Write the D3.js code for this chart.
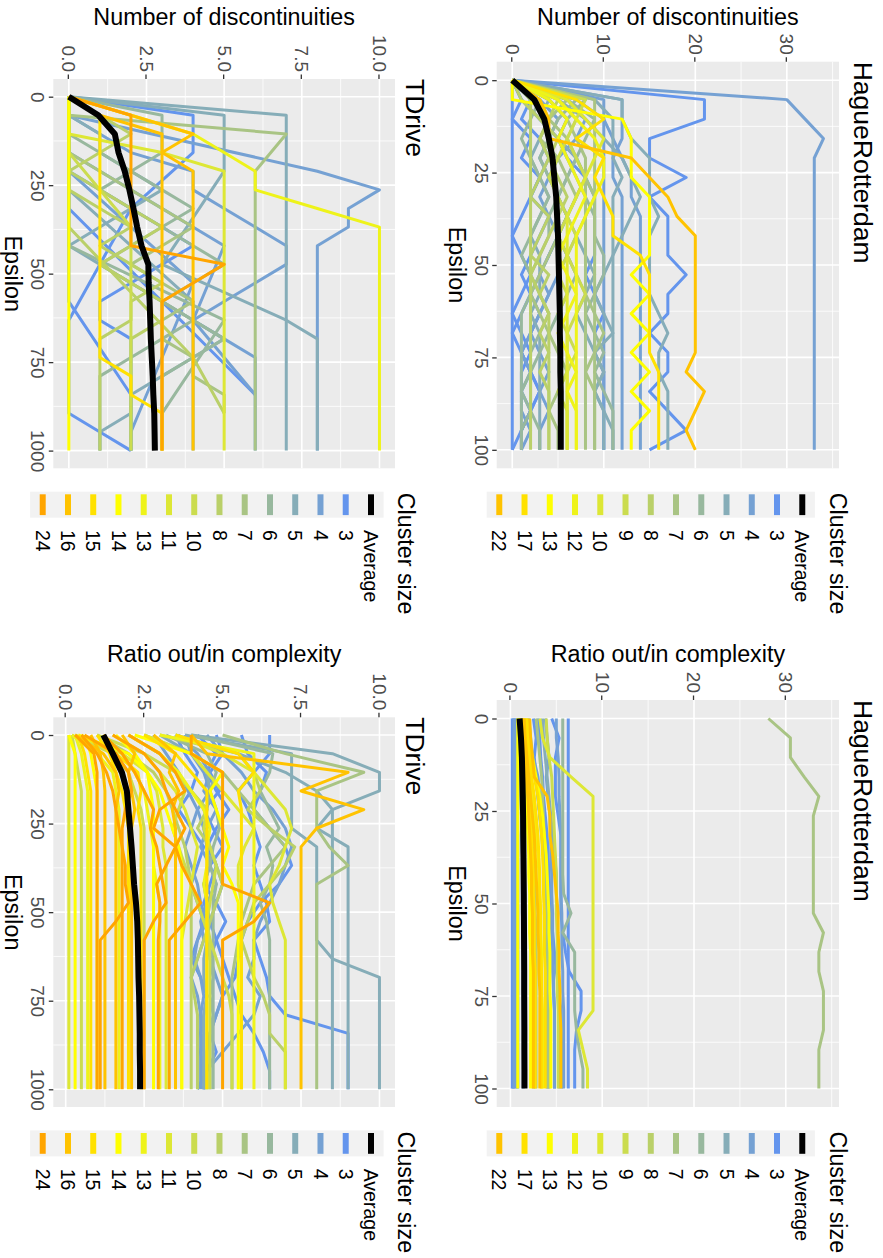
<!DOCTYPE html>
<html>
<head>
<meta charset="utf-8">
<script src="https://cdn.jsdelivr.net/npm/d3@7"></script>
<style>
  body { margin: 0; background: #ffffff; }
  svg { display: block; }
</style>
</head>
<body>
<script>
// ---------------------------------------------------------------
// Data
// ---------------------------------------------------------------
// Epsilon values at which the clusters were evaluated
const hrEpsilon = [0, 5.26, 10.53, 15.79, 21.05, 26.32, 31.58, 36.84, 42.11, 47.37,
                   52.63, 57.89, 63.16, 68.42, 73.68, 78.95, 84.21, 89.47, 94.74, 100];
const tdEpsilon = [0, 52.6, 105.3, 157.9, 210.5, 263.2, 315.8, 368.4, 421.1, 473.7,
                   526.3, 578.9, 631.6, 684.2, 736.8, 789.5, 842.1, 894.7, 947.4, 1000];

// Cluster sizes present in each data set (legend order)
const hrSizes = [3, 4, 5, 6, 7, 8, 9, 10, 12, 13, 17, 22];
const tdSizes = [3, 4, 5, 6, 7, 8, 10, 11, 13, 14, 15, 16, 24];

// Colour steps: cornflower blue -> yellow -> orange
const sizePalette = ["#6495ED", "#75A1D3", "#86ADB8", "#98B89E", "#A9C484", "#BAD069",
                     "#CBDC4F", "#DDE735", "#EEF31A", "#FFFF00", "#FFE100", "#FFC300", "#FFA500"];

// Axis ticks
const hrEpsTicks = [0, 25, 50, 75, 100];
const hrEpsMinor = [12.5, 37.5, 62.5, 87.5];
const tdEpsTicks = [0, 250, 500, 750, 1000];
const tdEpsMinor = [125, 375, 625, 875];
const hrValueTicks = [0, 10, 20, 30];
const hrValueMinor = [5, 15, 25, 35];
const tdValueTicks = [0, 2.5, 5, 7.5, 10];
const tdValueMinor = [1.25, 3.75, 6.25, 8.75];

// One row per cluster: [cluster size, value at each epsilon]; null = not measured there
// HagueRotterdam - number of discontinuities
const hrDiscLines = [
  [3, [0,21,21,15,15,19,15,17,17,17,19,17,17,15,17,17,15,17,19,15]],
  [3, [0,0,0,0,0,0,0,0,0,0,0,0,0,0,0,0,0,0,0,0]],
  [3, [0,2,1,3,4,3,2,1,0,1,2,1,0,1,2,1,1,2,1,0]],
  [3, [0,4,6,5,7,8,7,6,5,4,3,2,3,2,1,2,3,2,1,1]],
  [3, [0,1,3,5,6,8,9,9,9,9,8,9,10,9,9,10,10,10,10,10]],
  [3, [0,1,0,2,1,3,2,4,3,2,1,2,1,0,1,2,3,2,1,1]],
  [4, [0,30,32,34,33,33,33,33,33,33,33,33,33,33,33,33,33,33,33,33]],
  [4, [0,12,12,12,11,11,12,12,12,12,12,12,12,12,12,12,12,12,12,12]],
  [4, [0,7,10,11,12,13,13,14,14,14,14,14,14,14,14,14,14,14,14,14]],
  [4, [0,3,5,4,3,4,5,6,5,4,3,4,3,2,3,4,3,4,3,3]],
  [4, [0,10,10,10,10,10,10,10,10,10,10,10,10,10,10,10,10,10,10,10]],
  [4, [0,6,8,7,5,4,3,4,5,6,5,4,3,2,1,2,1,1,2,1]],
  [5, [0,12,12,13,15,15,15,16,15,15,15,15,16,17,16,16,17,17,17,17]],
  [5, [0,9,11,11,11,12,11,11,11,11,11,11,11,11,11,11,11,11,11,11]],
  [5, [0,5,8,10,12,13,14,13,12,11,10,9,10,11,9,10,9,10,11,11]],
  [5, [0,2,4,3,2,3,4,3,2,3,3,3,2,3,3,3,3,3,3,3]],
  [5, [0,4,3,5,7,6,5,6,7,8,9,8,7,8,9,10,9,10,10,10]],
  [6, [0,6,9,8,7,6,5,4,4,3,2,2,1,1,1,1,1,1,1,1]],
  [6, [0,3,2,1,2,3,4,3,2,1,2,3,4,3,2,2,1,2,1,1]],
  [6, [0,8,6,5,6,7,8,9,9,10,10,9,8,9,10,9,10,11,11,11]],
  [6, [0,7,5,4,3,4,5,6,5,6,7,6,5,4,3,2,2,2,3,3]],
  [7, [0,9,9,9,9,9,9,9,9,9,9,9,9,9,9,9,9,9,9,9]],
  [7, [0,4,6,7,8,8,8,8,8,8,8,8,8,8,8,8,8,8,8,8]],
  [7, [0,6,4,3,5,6,7,6,5,4,3,2,3,4,5,6,5,4,5,5]],
  [7, [0,3,4,6,7,8,9,8,7,6,7,8,9,10,9,8,9,9,9,9]],
  [8, [0,2,2,2,2,2,2,2,2,2,2,2,2,2,2,2,2,2,2,2]],
  [8, [0,1,3,5,4,3,2,4,3,2,4,3,4,4,4,4,4,4,4,4]],
  [8, [0,5,4,3,4,5,6,5,4,3,2,3,4,3,4,3,4,4,4,4]],
  [9, [0,5,7,6,5,4,5,6,7,6,5,6,5,6,7,6,5,6,6,6]],
  [9, [0,8,7,6,7,8,7,6,5,6,7,8,7,6,6,6,6,6,6,6]],
  [10, [0,6,8,10,9,8,7,6,6,6,6,6,6,6,6,6,6,6,6,6]],
  [12, [0,5,7,9,10,10,9,8,7,7,7,7,7,7,7,7,7,7,7,7]],
  [12, [0,4,6,5,6,7,8,7,6,5,6,7,6,5,6,7,6,7,7,7]],
  [13, [0,0,12,13,13,13,15,15,15,15,13,15,13,15,13,15,13,15,13,13]],
  [17, [0,7,10,7,10,9,10,11,11,14,15,15,15,15,15,16,16,16,16,16]],
  [22, [0,3,4,4,13,15,17,18,20,20,20,20,20,20,20,19,21,20,19,20]]
];
const hrDiscAverage = [0,2.4,3.5,4.0,4.4,4.6,4.8,4.9,5.0,5.05,5.1,5.15,5.2,5.2,5.25,5.25,5.3,5.3,5.3,5.3];

// TDrive - number of discontinuities
const tdDiscLines = [
  [3, [0,0,0,0,0,0,0,null,null,null,null,null,null,null,null,null,6]],
  [3, [0,0,0,0,0,1,2,3,4,3,2,1,1,2,2,2,2,2,2,2]],
  [3, [0,4,4,4,null,null,2,null,null,null,null,null,0,0,0,0,0,0,1,2]],
  [3, [0,0,0,0,0,0,0,0,0,0,0,0,null,null,null,null,2,2,2,2]],
  [4, [0,0,null,null,8,10,9,9,8,8,8,8,8,8,8,8,8,8,8,8]],
  [4, [0,0,0,0,null,null,null,null,5,null,null,null,4,null,null,null,6]],
  [4, [0,0,0,0,0,null,null,null,null,null,4,null,null,null,null,null,null,null,2,2]],
  [4, [0,0,1,2,4,4,5,6,7,7,6,5,4,5,6,6,6,6,6,6]],
  [5, [0,7,7,7,7,7,7,7,7,7,7,7,7,7,7,7,7,7,7,7]],
  [5, [0,5,5,5,5,null,null,null,null,3,null,null,7,8,8,8,8,8,8,8]],
  [5, [0,0,0,0,0,0,null,null,null,null,null,4,4,4,4,4,4,4,4,4]],
  [5, [0,0,1,1,2,3,2,1,0,1,2,3,4,5,4,3,2,2,1,1]],
  [6, [0,0,0,0,0,0,0,0,0,null,null,null,5,null,null,null,null,3,3,3]],
  [6, [0,3,3,3,2,1,2,3,2,1,2,3,4,3,2,1,1,1,1,1]],
  [6, [0,0,0,1,2,3,4,3,4,5,4,3,4,5,4,3,3,3,3,3]],
  [7, [0,0,7,null,6,6,6,6,6,6,6,6,6,6,6,6,6,6,6,6]],
  [7, [0,0,0,0,1,2,3,4,3,2,3,4,3,3,4,4,5,5]],
  [8, [0,0,0,0,0,0,1,2,1,2,3,2,2,1,1,1,1,1,1,1]],
  [8, [0,0,0,0,0,0,0,0,null,null,null,null,null,null,4,null,null,5]],
  [8, [0,1,2,1,0,1,2,3,2,1,2,3,3,2,2,2,2,2,2,2]],
  [10, [0,0,0,0,null,null,null,2,null,null,null,null,2,2,2,2,2,2,2,2]],
  [11, [0,0,0,3,5,5,5,5,5,5,5,5,5,5,5,5,5,5,5,5]],
  [13, [0,2,4,5,6,6,8,10,10,10,10,10,10,10,10,10,10,10,10,10]],
  [14, [0,0,0,0,0,0,0,0,0,0,0,0,0,0,0,0,0,0,0,0]],
  [15, [0,1,1,1,1,1,1,1,1,1,1,1,1,1,1,2,2,3,3,3]],
  [16, [0,1,3,3,3,3,3,3,3,3,3,3,3,3,3,3,3,3,3,3]],
  [16, [0,2,4,3,4,4,4,4,4,4,4,4,4,4,4,4,4,4,4,4]],
  [24, [0,2,2,2,2,2,2,2,2,5,4,3,3,3,3,3,3,3,3,3]]
];
const tdDiscAverage = [0,0.95,1.48,1.6,1.8,1.95,2.08,2.2,2.34,2.56,2.57,2.6,2.62,2.64,2.67,2.7,2.72,2.75,2.76,2.77];

// HagueRotterdam - ratio out/in complexity
const hrRatioLines = [
  [3, [0.2,0.2,0.2,0.2,0.2,0.2,0.2,0.2,0.2,0.2,0.2,0.2,0.2,0.2,0.2,0.2,0.2,0.2,0.2,0.2]],
  [3, [0.5,0.6,0.6,0.7,0.7,0.7,0.8,0.8,0.8,0.8,0.8,0.8,0.8,0.8,0.8,0.8,0.8,0.8,0.8,0.8]],
  [3, [4.5,5.3,4.9,4.9,4.9,5.2,5.5,5.5,5.5,5.5,5.5,5.7,6.0,6.4,7.7,7.7,7.2,7.0,7.0,7.0]],
  [3, [6.3,6.3,6.3,6.3,6.3,6.3,6.3,6.3,6.3,6.3,6.3,6.3,6.3,6.3,6.3,6.3,6.3,6.3,6.3,6.3]],
  [3, [3.0,3.2,3.3,3.5,3.6,3.8,4.0,4.1,4.2,4.3,4.4,4.5,4.6,4.6,4.7,4.8,4.8,4.8,4.8,4.8]],
  [3, [2.5,2.8,2.6,2.8,3.0,3.2,3.5,3.8,4.0,4.2,4.4,4.6,4.8,5.0,5.3,5.5,5.5,5.6,5.6,5.6]],
  [3, [0.3,0.3,0.3,0.3,0.3,0.3,0.3,0.3,0.3,0.3,0.3,0.3,0.3,0.3,0.3,0.3,0.3,0.3,0.3,0.3]],
  [4, [0.4,0.4,0.4,0.4,0.4,0.4,0.4,0.4,0.4,0.4,0.4,0.4,0.4,0.4,0.4,0.4,0.4,0.4,0.4,0.4]],
  [4, [5.0,5.0,5.2,5.3,5.3,5.4,5.5,5.5,5.5,5.5,5.6,5.6,5.6,5.7,5.7,5.8,5.8,5.8,5.8,5.8]],
  [4, [3.8,4.0,4.2,3.9,4.1,4.3,4.4,4.4,4.5,4.5,4.6,4.6,4.6,4.7,4.7,4.8,4.8,4.8,4.8,4.8]],
  [4, [1.8,2.0,2.5,3.0,3.2,3.4,3.5,3.6,3.6,3.7,3.7,3.8,3.8,3.9,3.9,3.9,4.0,4.0,4.0,4.0]],
  [4, [0.8,0.9,1.0,1.1,1.1,1.2,1.2,1.3,1.3,1.3,1.3,1.4,1.4,1.4,1.4,1.4,1.4,1.4,1.4,1.4]],
  [4, [0.6,0.6,0.6,0.6,0.6,0.6,0.6,0.6,0.6,0.6,0.6,0.6,0.6,0.6,0.6,0.6,0.6,0.6,0.6,0.6]],
  [5, [3.5,3.6,3.8,4.0,4.2,4.4,4.6,4.8,5.0,5.0,5.1,5.1,5.2,5.2,5.2,5.3,5.3,5.3,5.3,5.3]],
  [5, [2.0,2.2,2.4,2.7,3.0,3.2,3.4,3.6,3.7,3.8,3.9,4.0,4.0,4.1,4.1,4.2,4.2,4.2,4.2,4.2]],
  [6, [5.7,5.7,5.7,5.7,5.7,5.7,5.7,5.7,5.7,5.8,6.6,5.7,7.0,7.0,7.0,7.0,7.2,7.5,7.9,7.9]],
  [6, [1.2,1.3,1.4,1.6,1.8,1.9,2.0,2.1,2.2,2.2,2.3,2.3,2.4,2.4,2.4,2.5,2.5,2.5,2.5,2.5]],
  [7, [28.1,30.5,30.5,32.0,33.6,33.0,33.0,33.0,33.0,33.0,33.0,34.1,33.6,33.6,34.1,34.1,34.1,33.6,33.6,33.6]],
  [7, [2.8,3.0,3.2,3.4,3.5,3.6,3.7,3.8,3.8,3.9,3.9,4.0,4.0,4.0,4.1,4.1,4.1,4.1,4.1,4.1]],
  [8, [1.5,1.7,1.9,2.1,2.3,2.4,2.5,2.6,2.6,2.7,2.7,2.8,2.8,2.8,2.8,2.8,2.8,2.8,2.8,2.8]],
  [9, [3.9,4.0,4.2,4.5,4.6,4.7,4.8,4.9,5.0,5.0,5.0,5.1,5.1,5.1,5.1,5.2,5.2,5.2,5.2,5.2]],
  [10, [3.2,3.5,4.3,6.6,9.0,9.0,9.0,9.0,9.0,9.0,9.0,9.0,9.0,9.0,9.0,9.0,7.4,7.9,8.4,8.4]],
  [12, [1.0,1.2,1.5,2.0,2.4,2.6,2.8,3.0,3.1,3.2,3.3,3.3,3.4,3.4,3.4,3.5,3.5,3.5,3.5,3.5]],
  [13, [0.8,0.8,0.8,0.8,0.8,0.8,0.8,0.8,0.8,0.8,0.8,0.8,0.8,0.8,0.8,0.8,0.8,0.8,0.8,0.8]],
  [13, [1.8,2.0,2.4,2.8,3.2,3.5,3.7,3.9,4.0,4.1,4.2,4.2,4.3,4.3,4.3,4.4,4.4,4.4,4.4,4.4]],
  [13, [0.9,1.0,1.2,1.4,1.6,1.8,1.9,2.0,2.0,2.1,2.1,2.1,2.2,2.2,2.2,2.2,2.2,2.2,2.2,2.2]],
  [17, [1.8,1.9,2.1,2.6,3.0,3.2,3.4,3.5,3.6,3.6,3.7,3.7,3.7,3.8,3.8,3.8,3.8,3.8,3.8,3.8]],
  [17, [1.4,1.5,1.7,1.9,2.1,2.2,2.3,2.4,2.5,2.5,2.6,2.6,2.6,2.7,2.7,2.7,2.7,2.7,2.7,2.7]],
  [17, [1.6,1.7,2.0,2.3,2.6,2.8,3.0,3.1,3.2,3.2,3.3,3.3,3.3,3.4,3.4,3.4,3.4,3.4,3.4,3.4]],
  [22, [2.1,2.2,2.4,2.6,4.0,4.3,4.3,4.6,4.8,5.0,5.2,5.2,5.3,5.3,5.4,5.4,5.5,5.5,5.5,5.5]],
  [22, [1.5,1.6,1.8,2.0,2.2,2.4,2.6,2.7,2.8,2.9,3.0,3.0,3.1,3.1,3.2,3.2,3.2,3.2,3.2,3.2]],
  [22, [1.3,1.4,1.5,1.7,1.9,2.0,2.1,2.2,2.3,2.3,2.4,2.4,2.4,2.5,2.5,2.5,2.5,2.5,2.5,2.5]]
];
const hrRatioAverage = [1.0,1.15,1.25,1.3,1.35,1.38,1.4,1.42,1.44,1.46,1.47,1.48,1.49,1.5,1.5,1.51,1.52,1.52,1.53,1.53];

// TDrive - ratio out/in complexity
const tdRatioLines = [
  [3, [6.5,6.5,6.0,5.5,5.8,6.0,6.2,6.0,6.2,6.4,6.5,6.0,6.2,6.4,6.5,7.0,9.0,9.0,9.0,9.0]],
  [3, [4.2,4.8,4.5,4.8,5.2,4.8,4.5,4.8,4.6,4.4,4.6,4.8,5.0,5.2,5.4,5.6,6.0,6.3,6.5,6.5]],
  [3, [3.5,3.8,4.2,4.0,3.6,4.0,4.4,4.2,4.0,4.2,4.4,4.2,4.0,4.3,4.5,4.4,4.3,4.4,4.4,4.4]],
  [3, [5.6,5.8,6.4,6.2,6.0,6.5,7.0,7.2,6.8,6.2,5.8,5.6,5.5,5.4,5.0,4.8,4.6,4.8,4.5,4.4]],
  [3, [4.8,5.0,4.6,4.9,4.4,4.7,5.0,4.6,4.4,4.8,5.1,4.8,4.6,4.7,4.6,4.7,4.6,4.6,4.6,4.6]],
  [4, [4.5,5.0,5.6,6.0,6.6,7.0,7.2,7.0,6.8,6.5,6.2,6.0,6.0,5.8,6.2,6.0,5.5,5.0,4.5,4.2]],
  [4, [3.8,4.0,4.4,4.6,4.2,4.4,4.6,4.8,5.0,4.8,4.6,4.5,4.6,4.8,5.0,4.8,4.6,4.5,4.5,4.5]],
  [4, [2.8,3.2,3.6,3.9,4.2,4.0,3.8,4.0,4.2,4.3,4.5,4.2,4.1,4.3,4.4,4.3,4.3,4.3,4.3,4.3]],
  [4, [3.6,4.2,4.6,4.4,4.8,4.5,4.3,4.6,4.8,4.5,4.3,4.4,4.2,4.0,4.2,4.3,4.4,4.3,4.4,4.4]],
  [5, [4.0,8.5,10.0,10.0,8.5,8.5,8.5,8.5,8.5,8.5,8.5,8.5,8.5,10.0,10.0,10.0,10.0,10.0,10.0,10.0]],
  [5, [3.8,7.2,7.2,7.2,7.2,7.2,8.0,8.0,8.0,8.0,8.0,8.0,8.5,8.5,8.5,8.5,8.5,8.5,8.5,8.5]],
  [5, [3.5,5.5,7.0,8.0,8.5,8.0,9.0,9.0,9.0,9.0,9.0,9.0,9.0,9.0,9.0,9.0,9.0,9.0,9.0,9.0]],
  [5, [3.0,4.0,4.5,4.6,4.5,4.4,4.5,4.6,4.4,4.5,4.6,4.5,4.4,4.4,4.5,4.4,4.4,4.4,4.4,4.4]],
  [6, [4.0,6.6,6.5,6.2,6.5,6.8,6.4,6.6,6.5,6.2,6.4,6.5,6.5,6.5,6.5,6.5,6.5,6.5,6.5,6.5]],
  [6, [3.2,4.5,4.8,4.6,4.8,4.9,4.7,4.6,4.8,4.7,4.7,4.7,4.7,4.7,4.7,4.7,4.7,4.7,4.7,4.7]],
  [7, [5.0,7.0,9.5,8.0,8.0,8.0,8.4,9.0,8.0,8.0,8.0,8.0,8.0,8.0,8.0,8.0,8.0,8.0,8.0,8.0]],
  [7, [2.5,4.0,5.0,5.5,6.0,6.5,7.0,6.5,6.0,5.8,5.6,5.5,5.4,5.3,5.3,5.3,5.3,5.3,5.3,5.3]],
  [8, [3.0,5.5,6.0,6.2,5.8,6.5,7.3,7.0,6.5,6.0,5.8,5.6,5.8,6.0,6.3,6.5,6.5,7.0,7.0,7.0]],
  [8, [2.0,3.0,3.5,4.0,4.5,4.2,4.6,4.8,5.0,4.8,4.6,4.4,4.2,4.0,4.1,4.2,4.2,4.2,4.2,4.2]],
  [8, [1.0,2.0,2.8,3.2,3.4,3.6,3.8,3.9,4.0,4.0,4.0,4.0,4.0,4.0,4.0,4.0,4.0,4.0,4.0,4.0]],
  [10, [1.0,2.5,3.5,4.0,4.5,4.4,4.6,4.8,4.7,4.6,4.5,4.6,4.6,4.6,4.6,4.6,4.6,4.6,4.6,4.6]],
  [10, [0.2,0.3,0.4,0.5,0.5,0.5,0.5,0.5,0.5,0.5,0.5,0.5,0.5,0.5,0.5,0.5,0.5,0.5,0.5,0.5]],
  [10, [2.0,3.0,3.5,3.8,3.6,3.4,3.6,3.8,4.0,4.2,4.4,4.6,4.8,5.0,5.2,5.3,5.3,5.3,5.3,5.3]],
  [10, [0.2,1.5,2.0,2.2,2.4,2.5,2.5,2.5,2.5,2.5,2.5,2.5,2.5,2.5,2.5,2.5,2.5,2.5,2.5,2.5]],
  [11, [0.1,0.1,0.1,0.1,0.1,0.1,0.1,0.1,0.1,0.1,0.1,0.1,0.1,0.1,0.1,0.1,0.1,0.1,0.1,0.1]],
  [11, [2.5,4.0,4.5,5.0,5.5,6.0,5.7,5.5,5.5,5.6,5.6,5.6,5.6,5.6,5.6,5.6,5.6,5.6,5.6,5.6]],
  [11, [1.5,2.5,3.0,3.5,3.8,4.0,4.2,4.1,4.0,3.9,3.8,3.7,3.7,3.7,3.7,3.7,3.7,3.7,3.7,3.7]],
  [11, [3.5,5.0,6.0,6.5,7.0,7.2,7.0,6.8,6.5,6.6,6.8,7.0,7.0,7.0,7.0,7.0,7.0,7.0,7.0,7.0]],
  [11, [0.3,1.8,2.6,2.9,3.0,3.1,3.1,3.2,3.2,3.2,3.2,3.2,3.2,3.2,3.2,3.2,3.2,3.2,3.2,3.2]],
  [13, [3.0,6.0,6.0,6.0,6.0,6.0,6.0,6.0,6.0,6.0,6.0,6.0,6.0,6.0,6.0,6.0,6.0,6.0,6.0,6.0]],
  [13, [0.3,0.5,0.6,0.7,0.7,0.7,0.7,0.7,0.7,0.7,0.7,0.7,0.7,0.7,0.7,0.7,0.7,0.7,0.7,0.7]],
  [13, [2.0,3.0,3.6,4.0,4.4,4.6,4.5,4.5,4.4,4.5,4.5,4.5,4.5,4.5,4.5,4.5,4.5,4.5,4.5,4.5]],
  [13, [1.2,1.8,2.2,2.5,2.6,2.7,2.8,2.8,2.9,3.0,3.0,3.0,3.0,3.0,3.0,3.0,3.0,3.0,3.0,3.0]],
  [13, [0.2,1.0,1.5,1.6,1.7,1.7,1.7,1.7,1.7,1.7,1.7,1.7,1.7,1.7,1.7,1.7,1.7,1.7,1.7,1.7]],
  [14, [0.1,0.3,0.3,0.3,0.3,0.3,0.3,0.3,0.3,0.3,0.3,0.3,0.3,0.3,0.3,0.3,0.3,0.3,0.3,0.3]],
  [14, [0.6,0.8,0.9,1.0,1.0,1.0,1.0,1.0,1.0,1.0,1.0,1.0,1.0,1.0,1.0,1.0,1.0,1.0,1.0,1.0]],
  [14, [1.6,2.2,2.6,3.0,3.2,3.4,3.6,3.7,3.7,3.7,3.7,3.7,3.7,3.7,3.7,3.7,3.7,3.7,3.7,3.7]],
  [14, [2.2,4.0,5.0,4.6,4.8,5.0,5.2,5.0,5.3,5.5,5.5,5.5,5.5,5.5,5.5,5.5,5.5,5.5,5.5,5.5]],
  [14, [0.4,2.0,2.6,2.7,2.8,2.8,2.8,2.8,2.8,2.8,2.8,2.8,2.8,2.8,2.8,2.8,2.8,2.8,2.8,2.8]],
  [15, [0.4,0.6,0.7,0.8,0.8,0.8,0.8,0.8,0.8,0.8,0.8,0.8,0.8,0.8,0.8,0.8,0.8,0.8,0.8,0.8]],
  [15, [1.0,1.4,1.6,1.8,1.9,2.0,2.0,2.0,2.0,2.0,2.0,2.0,2.0,2.0,2.0,2.0,2.0,2.0,2.0,2.0]],
  [15, [2.5,3.5,4.0,4.5,4.5,4.5,4.5,4.5,4.5,4.5,4.5,4.5,4.5,4.5,4.5,4.5,4.5,4.5,4.5,4.5]],
  [15, [3.5,5.5,6.0,5.5,5.6,5.6,5.6,5.6,5.6,5.6,5.6,5.6,5.6,5.6,5.6,5.6,5.6,5.6,5.6,5.6]],
  [15, [0.5,1.6,2.3,2.4,2.3,2.4,2.4,2.4,2.4,2.4,2.4,2.4,2.4,2.4,2.4,2.4,2.4,2.4,2.4,2.4]],
  [16, [4.0,4.5,9.0,7.5,9.5,8.0,7.5,7.5,7.5,7.5,7.5,7.5,7.5,7.5,7.5,7.5,7.5,7.5,7.5,7.5]],
  [16, [0.8,1.1,1.2,1.25,1.25,1.25,1.25,1.25,1.25,1.25,1.25,1.25,1.25,1.25,1.25,1.25,1.25,1.25,1.25,1.25]],
  [16, [1.8,2.2,2.0,2.1,2.2,2.1,2.1,2.1,2.1,2.1,2.1,2.1,2.1,2.1,2.1,2.1,2.1,2.1,2.1,2.1]],
  [16, [2.8,3.5,3.3,3.6,3.4,3.5,3.5,3.5,3.5,3.5,3.5,3.5,3.5,3.5,3.5,3.5,3.5,3.5,3.5,3.5]],
  [16, [0.3,1.2,1.6,1.7,1.6,1.6,1.6,1.6,1.6,1.6,1.6,1.6,1.6,1.6,1.6,1.6,1.6,1.6,1.6,1.6]],
  [24, [4.0,4.0,5.0,5.0,5.0,5.0,5.0,5.0,5.0,6.5,6.0,5.0,5.0,5.0,5.0,5.0,5.0,5.0,5.0,5.0]],
  [24, [1.5,2.5,3.0,3.2,3.5,3.8,3.5,3.7,4.0,4.3,3.8,3.3,3.3,3.3,3.3,3.3,3.3,3.3,3.3,3.3]],
  [24, [1.2,1.8,2.2,2.5,2.8,2.7,2.9,3.0,3.1,3.2,2.8,2.5,2.5,2.5,2.5,2.5,2.5,2.5,2.5,2.5]],
  [24, [0.5,1.0,1.3,1.5,1.6,1.7,1.8,1.9,1.9,2.0,1.6,1.1,1.1,1.1,1.1,1.1,1.1,1.1,1.1,1.1]],
  [24, [2.0,3.0,3.5,3.8,3.0,2.8,3.5,3.2,2.9,3.0,3.0,2.95,2.95,2.95,2.95,2.95,2.95,2.95,2.95,2.95]],
  [24, [0.3,0.9,1.0,1.0,1.0,1.0,1.0,1.0,1.0,1.0,1.0,1.0,1.0,1.0,1.0,1.0,1.0,1.0,1.0,1.0]],
  [24, [0.6,1.6,2.0,2.1,1.9,1.8,1.8,1.8,1.8,1.8,1.8,1.8,1.8,1.8,1.8,1.8,1.8,1.8,1.8,1.8]]
];
const tdRatioAverage = [1.2,1.5,1.79,1.95,2.0,2.05,2.1,2.14,2.18,2.24,2.28,2.3,2.31,2.32,2.34,2.35,2.36,2.36,2.37,2.37];

// ---------------------------------------------------------------
// Drawing
// ---------------------------------------------------------------
const FONT = '"Liberation Sans", Arial, Helvetica, sans-serif';
const W = 883, H = 1258;
const TICK_SIZE = 19, AXIS_TITLE_SIZE = 23.3, TITLE_SIZE = 26.5, LEGEND_LABEL_SIZE = 19.5;

const svg = d3.select("body").append("svg").attr("width", W).attr("height", H);
svg.append("rect").attr("width", W).attr("height", H).attr("fill", "#ffffff");

// The figure is laid out landscape (1258 x 883) and turned a quarter clockwise onto the page.
const root = svg.append("g")
  .attr("transform", `translate(${W},0) rotate(90)`)
  .attr("font-family", FONT);

function drawPanel(o) {
  const g = root.append("g");
  const eMax = d3.max(o.eps);
  const x = d3.scaleLinear().domain([-0.05 * eMax, 1.05 * eMax]).range([o.left, o.right]);
  const values = o.lines.flatMap(l => l[1]).concat(o.avg).filter(v => v != null);
  const [lo, hi] = d3.extent(values);
  const pad = (hi - lo) * 0.05;
  const y = d3.scaleLinear().domain([lo - pad, hi + pad]).range([o.bottom, o.top]);
  const [xd0, xd1] = x.domain(), [yd0, yd1] = y.domain();

  g.append("rect")
    .attr("x", o.left).attr("y", o.top)
    .attr("width", o.right - o.left).attr("height", o.bottom - o.top)
    .attr("fill", "#EBEBEB");

  const gridX = (vals, w) => g.append("g").selectAll("line")
    .data(vals.filter(v => v >= xd0 && v <= xd1)).join("line")
    .attr("x1", d => x(d)).attr("x2", d => x(d))
    .attr("y1", o.top).attr("y2", o.bottom)
    .attr("stroke", "#ffffff").attr("stroke-width", w);
  const gridY = (vals, w) => g.append("g").selectAll("line")
    .data(vals.filter(v => v >= yd0 && v <= yd1)).join("line")
    .attr("y1", d => y(d)).attr("y2", d => y(d))
    .attr("x1", o.left).attr("x2", o.right)
    .attr("stroke", "#ffffff").attr("stroke-width", w);
  gridX(o.xMinor, 0.8); gridY(o.yMinor, 0.8);
  gridX(o.xTicks, 1.6); gridY(o.yTicks, 1.6);

  // a cluster's line runs through the epsilons where it was measured
  const line = d3.line().x(p => x(p[0])).y(p => y(p[1]));
  const points = vals => vals.map((v, i) => [o.eps[i], v]).filter(p => p[1] != null);

  g.append("g").selectAll("path")
    .data(o.lines).join("path")
    .attr("d", d => line(points(d[1])))
    .attr("fill", "none")
    .attr("stroke", d => sizePalette[o.sizes.indexOf(d[0])])
    .attr("stroke-width", 3)
    .attr("stroke-linejoin", "round");

  g.append("path")
    .attr("d", line(points(o.avg)))
    .attr("fill", "none")
    .attr("stroke", "#000000")
    .attr("stroke-width", 6)
    .attr("stroke-linejoin", "round");

  const styleAxis = a => {
    a.select(".domain").remove();
    a.attr("font-family", FONT).attr("font-size", TICK_SIZE);
    a.selectAll(".tick line").attr("stroke", "#333333").attr("stroke-width", 1.3);
    a.selectAll(".tick text").attr("fill", "#4D4D4D");
  };
  g.append("g").attr("transform", `translate(${o.left},0)`)
    .call(d3.axisLeft(y).tickValues(o.yTicks).tickFormat(o.yFormat).tickSize(4.5).tickPadding(2.5))
    .call(styleAxis);
  g.append("g").attr("transform", `translate(0,${o.bottom})`)
    .call(d3.axisBottom(x).tickValues(o.xTicks).tickFormat(d3.format("d")).tickSize(4.5).tickPadding(4))
    .call(styleAxis);

  // titles
  g.append("text")
    .attr("x", o.left).attr("y", o.titleBaseline)
    .attr("font-size", TITLE_SIZE).attr("fill", "#000")
    .text(o.title);
  g.append("text")
    .attr("transform", `translate(${o.plotLeft + 24.5},${(o.top + o.bottom) / 2}) rotate(-90)`)
    .attr("text-anchor", "middle")
    .attr("font-size", AXIS_TITLE_SIZE).attr("fill", "#000")
    .text(o.yTitle);
  g.append("text")
    .attr("x", (o.left + o.right) / 2).attr("y", o.bottom + 48)
    .attr("text-anchor", "middle")
    .attr("font-size", AXIS_TITLE_SIZE).attr("fill", "#000")
    .text("Epsilon");

  // legend
  const entries = ["Average"].concat(o.sizes.map(String));
  const key = 25.25;
  const lx = o.right + 23.4;
  const lg = g.append("g");
  lg.append("text")
    .attr("x", lx + 1).attr("y", o.legendTitleBaseline)
    .attr("font-size", AXIS_TITLE_SIZE).attr("fill", "#000")
    .text("Cluster size");
  lg.append("rect")
    .attr("x", lx).attr("y", o.legendTop)
    .attr("width", 26).attr("height", key * entries.length)
    .attr("fill", "#F2F2F2");
  const rows = lg.selectAll("g.key").data(entries).join("g")
    .attr("transform", (d, i) => `translate(${lx},${o.legendTop + key * (i + 0.5)})`);
  rows.append("line")
    .attr("x1", 2.6).attr("x2", 23.4)
    .attr("stroke", (d, i) => i === 0 ? "#000000" : sizePalette[i - 1])
    .attr("stroke-width", 6);
  rows.append("text")
    .attr("x", 38.3).attr("dy", "0.35em")
    .attr("font-size", LEGEND_LABEL_SIZE).attr("fill", "#000")
    .text(d => d);
}

const fmtInt = d3.format("d");
const fmtOne = d3.format(".1f");

drawPanel({
  left: 61.7, right: 468.3, top: 44, bottom: 386.3, plotLeft: 0,
  eps: hrEpsilon, lines: hrDiscLines, avg: hrDiscAverage, sizes: hrSizes,
  xTicks: hrEpsTicks, xMinor: hrEpsMinor, yTicks: hrValueTicks, yMinor: hrValueMinor, yFormat: fmtInt,
  title: "HagueRotterdam", titleBaseline: 29.5, yTitle: "Number of discontinuities",
  legendTop: 68.1, legendTitleBaseline: 52.8
});
drawPanel({
  left: 79, right: 468.3, top: 488, bottom: 829.7, plotLeft: 0,
  eps: tdEpsilon, lines: tdDiscLines, avg: tdDiscAverage, sizes: tdSizes,
  xTicks: tdEpsTicks, xMinor: tdEpsMinor, yTicks: tdValueTicks, yMinor: tdValueMinor, yFormat: fmtOne,
  title: "TDrive", titleBaseline: 476.6, yTitle: "Number of discontinuities",
  legendTop: 499.4, legendTitleBaseline: 484.8
});
drawPanel({
  left: 700, right: 1107, top: 44, bottom: 386.3, plotLeft: 637,
  eps: hrEpsilon, lines: hrRatioLines, avg: hrRatioAverage, sizes: hrSizes,
  xTicks: hrEpsTicks, xMinor: hrEpsMinor, yTicks: hrValueTicks, yMinor: hrValueMinor, yFormat: fmtInt,
  title: "HagueRotterdam", titleBaseline: 29.5, yTitle: "Ratio out/in complexity",
  legendTop: 68.1, legendTitleBaseline: 52.8
});
drawPanel({
  left: 717.3, right: 1107, top: 488, bottom: 829.7, plotLeft: 637,
  eps: tdEpsilon, lines: tdRatioLines, avg: tdRatioAverage, sizes: tdSizes,
  xTicks: tdEpsTicks, xMinor: tdEpsMinor, yTicks: tdValueTicks, yMinor: tdValueMinor, yFormat: fmtOne,
  title: "TDrive", titleBaseline: 476.6, yTitle: "Ratio out/in complexity",
  legendTop: 499.4, legendTitleBaseline: 484.8
});
</script>
</body>
</html>
